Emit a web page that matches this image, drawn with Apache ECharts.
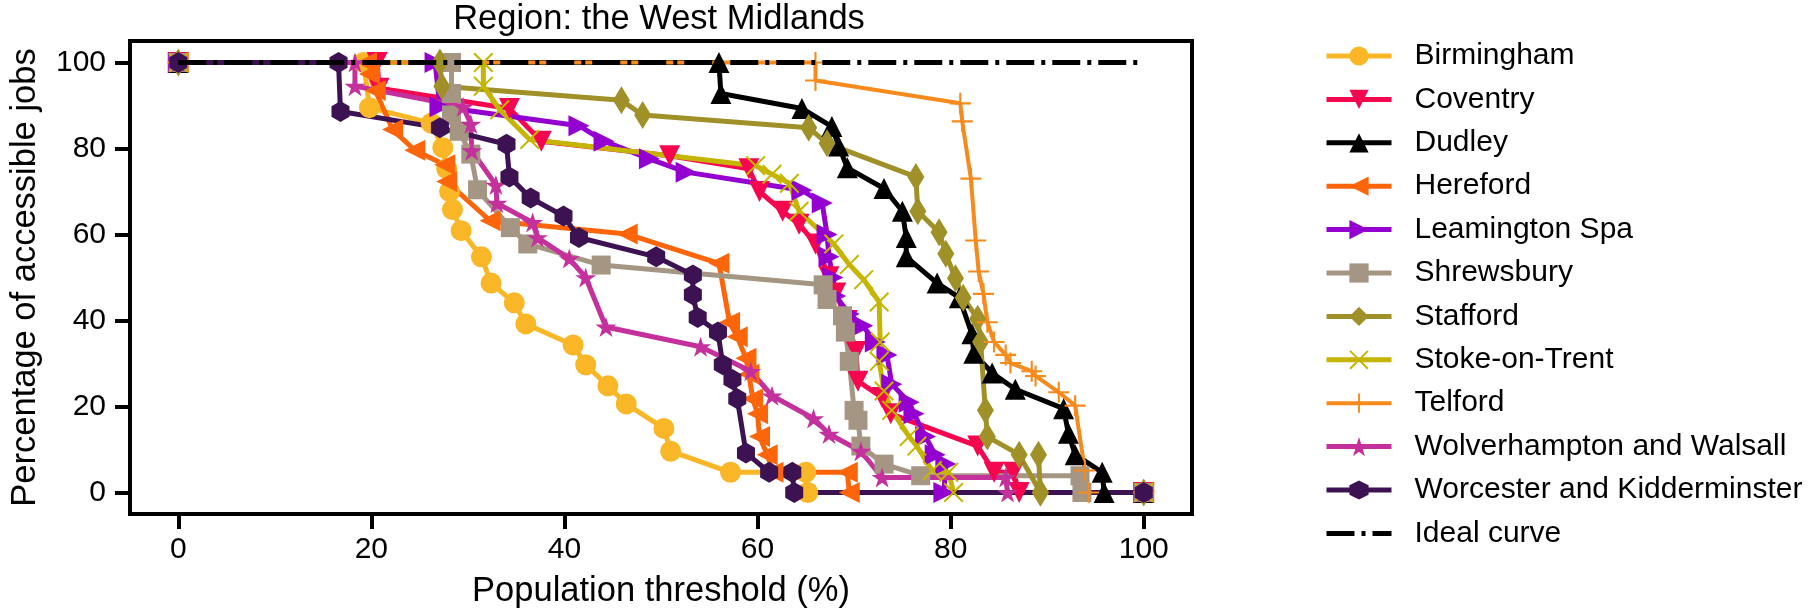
<!DOCTYPE html>
<html><head><meta charset="utf-8">
<script src="https://cdn.jsdelivr.net/npm/echarts@6/dist/echarts.min.js"></script>
<style>html,body{margin:0;padding:0;background:#fff}#c{width:1810px;height:614px}</style>
</head><body><div id="c"></div>
<script>
const xTicks = [0, 20, 40, 60, 80, 100];
const yTicks = [0, 20, 40, 60, 80, 100];
const seriesNames = ['Birmingham','Coventry','Dudley','Hereford','Leamington Spa','Shrewsbury','Stafford','Stoke-on-Trent','Telford','Wolverhampton and Walsall','Worcester and Kidderminster','Ideal curve'];

const birmingham = [[0,100],[19.2,100],[19.8,89.5],[26.2,85.9],[27.4,80.2],[27.8,75.3],[28.1,70],[28.4,65.8],[29.3,60.9],[31.4,54.8],[32.4,48.7],[34.8,44.1],[36.0,39.2],[40.9,34.3],[42.2,29.7],[44.5,24.8],[46.4,20.6],[50.3,14.9],[51.0,9.6],[57.2,4.7],[65.0,4.7],[65.2,0],[100,0]];
const coventry = [[0,100],[20.6,100],[20.8,94],[34.3,89.3],[37.6,81.7],[50.9,78.3],[59.1,75.3],[60.2,70],[62.6,65.4],[64.3,62.4],[66.0,57.8],[67.4,50.2],[68.1,46.4],[69.3,40],[70.2,32.8],[70.4,25.9],[72.9,22.1],[73.8,18.3],[82.8,10.8],[84.5,4.7],[86.5,4.7],[87.1,0],[100,0]];
const dudley = [[0,100],[56.0,100],[56.2,92.8],[64.6,89.3],[67.7,85.1],[68.4,80.6],[69.3,75.5],[73.1,70.7],[75.0,65.4],[75.4,59.3],[75.4,54.8],[78.6,48.7],[80.9,45.3],[82.2,36.9],[82.4,32.4],[84.3,27.8],[86.7,24.0],[91.7,19.5],[92.2,13.8],[92.9,8.8],[95.7,4.7],[95.9,0],[100,0]];
const hereford = [[0,100],[19.5,100],[19.8,97.3],[20.4,93.5],[22.2,84.4],[24.5,79.6],[27.6,76.2],[27.8,72.3],[32.3,63.2],[46.5,60.1],[56.0,53.3],[57.1,39.6],[57.9,36.2],[58.8,31.2],[59.1,27.5],[59.5,21.8],[60.0,18.3],[60.2,13.0],[61.0,8.8],[61.6,4.7],[69.3,4.7],[69.5,0],[100,0]];
const leamingtonSpa = [[0,100],[26.6,100],[27.1,89.7],[41.5,85.3],[44.1,81.7],[48.8,77.6],[52.6,74.5],[64.6,70.3],[66.7,67.3],[67.2,60],[67.4,54.8],[67.8,50],[68.1,45.7],[69.5,41.5],[70.9,38.8],[72.2,35.0],[73.4,32.0],[73.9,25.2],[75.7,21.0],[76.2,18.3],[77.4,13.0],[78.4,8.8],[79.5,6.6],[79.3,0],[100,0]];
const shrewsbury = [[0,100],[28.3,100],[28.3,92.8],[28.3,87.8],[29.1,84.0],[30.3,78.7],[31.0,70.4],[34.4,61.6],[36.2,57.8],[43.8,52.9],[66.8,48.3],[67.2,44.9],[68.8,41.1],[69.1,37.3],[69.5,30.5],[70.0,19.1],[70.4,16.8],[70.7,10.8],[73.1,6.6],[76.9,3.9],[93.4,3.9],[93.6,0],[100,0]];
const stafford = [[0,100],[27.1,100],[27.3,94.5],[45.9,91.2],[48.1,87.8],[65.3,84.8],[67.2,81.2],[76.4,73.4],[76.6,65.4],[78.8,60.5],[79.5,55.5],[80.5,49.8],[81.3,45.3],[82.8,40.4],[83.1,35.0],[83.6,19.1],[83.8,13.0],[87.1,8.8],[89.3,0],[89.1,8.8],[89.3,0],[100,0]];
const stokeOnTrent = [[0,100],[31.6,100],[31.6,94.5],[33.3,89],[36.4,82.1],[59.8,76.0],[61.5,74],[63.3,71.9],[64.3,65.4],[67.9,57.8],[69.5,53],[71.0,49.5],[72.6,44.3],[72.7,35],[72.6,30.5],[73.1,23.6],[73.9,19.1],[75.7,13.0],[76.5,10.8],[78.1,5.1],[79.8,4.7],[80.3,0],[100,0]];
const telford = [[0,100],[66.0,100],[66.0,95.8],[81.0,90.5],[81.2,86.3],[82.1,73.0],[82.6,58.6],[82.9,51.4],[83.4,46.2],[83.8,39.6],[84.5,35.0],[85.7,32.0],[86.2,30.1],[88.4,28.2],[88.8,27.1],[91.2,23.3],[92.9,20.2],[93.9,5.1],[94.3,0],[100,0]];
const wolverhamptonWalsall = [[0,100],[18.3,100],[18.3,94.5],[29.5,89.7],[30.3,85.7],[30.4,79.5],[32.9,71.5],[33.0,67.3],[36.7,62.8],[37.2,59.3],[40.5,54.4],[42.2,50.0],[44.3,38.5],[54.1,33.9],[59.3,28.2],[61.5,22.5],[65.8,17.2],[67.4,13.6],[70.7,9.6],[72.9,3.5],[85.7,3.5],[85.9,0],[100,0]];
const worcesterKidderminster = [[0,100],[16.6,100],[16.8,88.6],[27.1,84.8],[34.0,81.0],[34.3,73.4],[36.5,68.5],[39.9,64.3],[41.5,59.3],[49.5,54.8],[53.3,50.6],[53.3,46.0],[53.8,40.7],[55.9,37.3],[56.4,29.7],[57.4,26.3],[57.9,21.8],[58.8,9.2],[61.2,4.7],[63.6,4.7],[63.8,0],[100,0]];
const idealCurve = [[0,100],[100,100]];

const FONT = "'Liberation Sans', Arial, sans-serif";
const P_STAR = 'path://M10,0L12.245,6.910L19.511,6.910L13.633,11.180L15.878,18.090L10,13.82L4.122,18.090L6.367,11.180L0.489,6.910L7.755,6.910Z';
const P_HEX = 'path://M10,0L18.66,5L18.66,15L10,20L1.34,15L1.34,5Z';
const P_PLUS = 'path://M9,0H11V9H20V11H11V20H9V11H0V9H9Z';
const P_X = 'path://M0,1.414L1.414,0L10,8.586L18.586,0L20,1.414L11.414,10L20,18.586L18.586,20L10,11.414L1.414,20L0,18.586L8.586,10Z';

const styles = [
  {data: birmingham, color:'#F9B626', symbol:'circle', size:21, rot:0, w:5},
  {data: coventry, color:'#F5074F', symbol:'triangle', size:21, rot:180, w:5},
  {data: dudley, color:'#000000', symbol:'triangle', size:21, rot:0, w:5},
  {data: hereford, color:'#FD650A', symbol:'triangle', size:21, rot:90, w:5},
  {data: leamingtonSpa, color:'#9400D0', symbol:'triangle', size:21, rot:-90, w:5},
  {data: shrewsbury, color:'#A59684', symbol:'rect', size:19, rot:0, w:5},
  {data: stafford, color:'#A09028', symbol:'diamond', size:[17,28], rot:0, w:5},
  {data: stokeOnTrent, color:'#C6B500', symbol:P_X, size:20, rot:0, w:5},
  {data: telford, color:'#F78A1C', symbol:P_PLUS, size:21, rot:0, w:4},
  {data: wolverhamptonWalsall, color:'#C4309C', symbol:P_STAR, size:[21,20], rot:0, w:5},
  {data: worcesterKidderminster, color:'#3D1252', symbol:P_HEX, size:[18,21], rot:0, w:5}
];

const series = styles.map((s, i) => ({
  name: seriesNames[i], type:'line', data: s.data,
  symbol: s.symbol, symbolSize: s.size, symbolRotate: s.rot, showAllSymbol: true,
  itemStyle: {color: s.color, borderWidth: 0},
  lineStyle: {color: s.color, width: s.w},
  emphasis: {disabled: true}, z: 2
}));
series.push({
  name: seriesNames[11], type:'line', data: idealCurve, symbol:'none',
  itemStyle: {color:'#000'},
  lineStyle: {color:'#000', width:5, type:[28,7,4,7]},
  emphasis: {disabled: true}, z: 3
});

const chart = echarts.init(document.getElementById('c'), null, {renderer:'canvas'});
chart.setOption({
  animation: false,
  backgroundColor: '#fff',
  title: {text:'Region: the West Midlands', left: 659, top: 2, padding: 0, textAlign:'center',
    textStyle:{fontFamily: FONT, fontSize: 34.5, fontWeight:'normal', color:'#000'}},
  legend: {
    orient:'vertical', left: 1324, top: 41, padding: 0, itemWidth: 65, itemHeight: 24, itemGap: 13.4,
    data: seriesNames.map((n, i) => i === 11 ? {name:n, itemStyle:{opacity:0}} : n),
    lineStyle: {width: 'inherit'},
    textStyle: {fontFamily: FONT, fontSize: 30, color:'#000', lineHeight: 30, padding:[0,0,0,18]},
    selectedMode: false
  },
  grid: {left:126, right:618, top:41, bottom:92, show:true, borderColor:'#000', borderWidth:4, backgroundColor:'transparent'},
  xAxis: {type:'value', min:-5, max:105,
    name:'Population threshold (%)', nameLocation:'middle', nameGap: 60,
    nameTextStyle:{fontFamily: FONT, fontSize: 34.5, color:'#000'},
    axisLine:{show:true, onZero:false, lineStyle:{color:'#000', width:4}},
    axisTick:{show:true, inside:false, length:15, lineStyle:{color:'#000', width:4}, customValues: xTicks},
    axisLabel:{fontFamily: FONT, fontSize: 30, color:'#000', margin: 21, customValues: xTicks},
    splitLine:{show:false}},
  yAxis: {type:'value', min:-5, max:105,
    name:'Percentage of accessible jobs', nameLocation:'middle', nameGap: 87,
    nameTextStyle:{fontFamily: FONT, fontSize: 34.5, color:'#000'},
    axisLine:{show:true, onZero:false, lineStyle:{color:'#000', width:4}},
    axisTick:{show:true, inside:false, length:15, lineStyle:{color:'#000', width:4}, customValues: yTicks},
    axisLabel:{fontFamily: FONT, fontSize: 30, color:'#000', margin: 24, customValues: yTicks},
    splitLine:{show:false}},
  series: series
});
</script></body></html>
